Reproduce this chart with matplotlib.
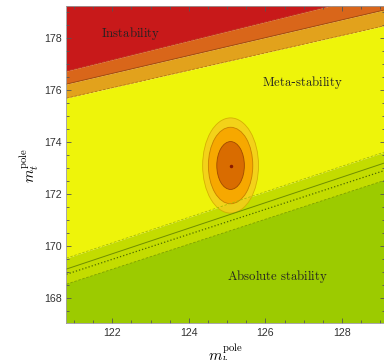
import numpy as np
import matplotlib
matplotlib.use('agg')
import matplotlib.pyplot as plt
from matplotlib.patches import Ellipse
from matplotlib.ticker import MultipleLocator

plt.rcParams['mathtext.fontset'] = 'cm'

# boundary lines, values of m_t at the two ends of the m_h range
mh_ends = np.array([120.8, 129.2])
instab_up = np.array([176.72, 179.77])     # red edge (dashed)
instab_mid = np.array([176.22, 179.10])    # central instability line
instab_lo = np.array([175.68, 178.49])     # lower edge (dashed)
abs_up = np.array([169.53, 173.65])        # upper edge of abs. stability band
abs_mid = np.array([169.11, 173.23])       # central line
abs_dot = np.array([168.91, 172.94])       # dotted line
abs_lo = np.array([168.53, 172.56])        # lower edge

# measured point with 1,2,3 sigma ellipses
mh0, mt0 = 125.09, 173.09
sig_mh = [0.36, 0.58, 0.73]
sig_mt = [0.92, 1.47, 1.83]

fig = plt.figure(figsize=(3.84, 3.6), dpi=100)
ax = fig.add_axes([0.173, 0.103, 0.83, 0.881])

top = 190
bot = 150
ax.fill_between(mh_ends, instab_up, top, color='#C8191A', lw=0)
ax.fill_between(mh_ends, instab_mid, instab_up, color='#D9661A', lw=0)
ax.fill_between(mh_ends, instab_lo, instab_mid, color='#E2A21C', lw=0)
ax.fill_between(mh_ends, abs_up, instab_lo, color='#EEF40A', lw=0)
ax.fill_between(mh_ends, abs_lo, abs_up, color='#C3DC00', lw=0)
ax.fill_between(mh_ends, bot, abs_lo, color='#9CCB00', lw=0)

ax.plot(mh_ends, instab_up, '--', color='#B8401A', lw=0.6, dashes=(3, 2))
ax.plot(mh_ends, instab_mid, '-', color='#9A4A10', lw=0.6)
ax.plot(mh_ends, instab_lo, '--', color='#B07A10', lw=0.6, dashes=(3, 2))
ax.plot(mh_ends, abs_up, '--', color='#A8BC00', lw=0.6, dashes=(3, 2))
ax.plot(mh_ends, abs_mid, '-', color='#6F8E00', lw=0.7)
ax.plot(mh_ends, abs_dot, ':', color='#4F6A00', lw=0.9)
ax.plot(mh_ends, abs_lo, '--', color='#7FA000', lw=0.6, dashes=(3, 2))

ell_colors = ['#D96C00', '#F7A800', '#F4CC1C']
ell_edges = ['#A04A00', '#C88000', '#D0A800']
for i in [2, 1, 0]:
    e = Ellipse((mh0, mt0), 2 * sig_mh[i], 2 * sig_mt[i], facecolor=ell_colors[i],
                edgecolor=ell_edges[i], lw=0.6, alpha=0.85 if i == 2 else 1.0)
    ax.add_patch(e)
ax.plot([mh0], [mt0], 'o', color='#8A1A00', ms=1.5)

ax.set_xlim(120.8, 129.13)
ax.set_ylim(167.04, 179.23)
ax.xaxis.set_major_locator(MultipleLocator(2))
ax.xaxis.set_minor_locator(MultipleLocator(0.5))
ax.yaxis.set_major_locator(MultipleLocator(2))
ax.yaxis.set_minor_locator(MultipleLocator(0.5))
ax.tick_params(which='both', direction='in', top=True, right=True, color='#555555',
               labelsize=7.7, width=0.6, labelcolor='#333333')
ax.tick_params(which='major', length=3.5)
ax.tick_params(which='minor', length=2)
for lab in ax.get_xticklabels() + ax.get_yticklabels():
    lab.set_family('Liberation Sans')
for s in ax.spines.values():
    s.set_color('#999999')
    s.set_linewidth(0.6)

ax.text(122.47, 178.15, r'$\mathrm{Instability}$', fontsize=9.2, ha='center', va='center', color='#222222')
ax.text(126.97, 176.27, r'$\mathrm{Meta}$-$\mathrm{stability}$', fontsize=9.2, ha='center', va='center', color='#222222')
ax.text(126.32, 168.81, r'$\mathrm{Absolute\ stability}$', fontsize=9.2, ha='center', va='center', color='#222222')

fig.text(0.586, 1 - 343 / 360, r'$m_h^{\rm pole}$', fontsize=11, ha='center', va='top')
fig.text(30 / 384, 1 - 165 / 360, r'$m_t^{\rm pole}$', fontsize=11, ha='center', va='center', rotation=90)

fig.savefig('out.png', dpi=100)
